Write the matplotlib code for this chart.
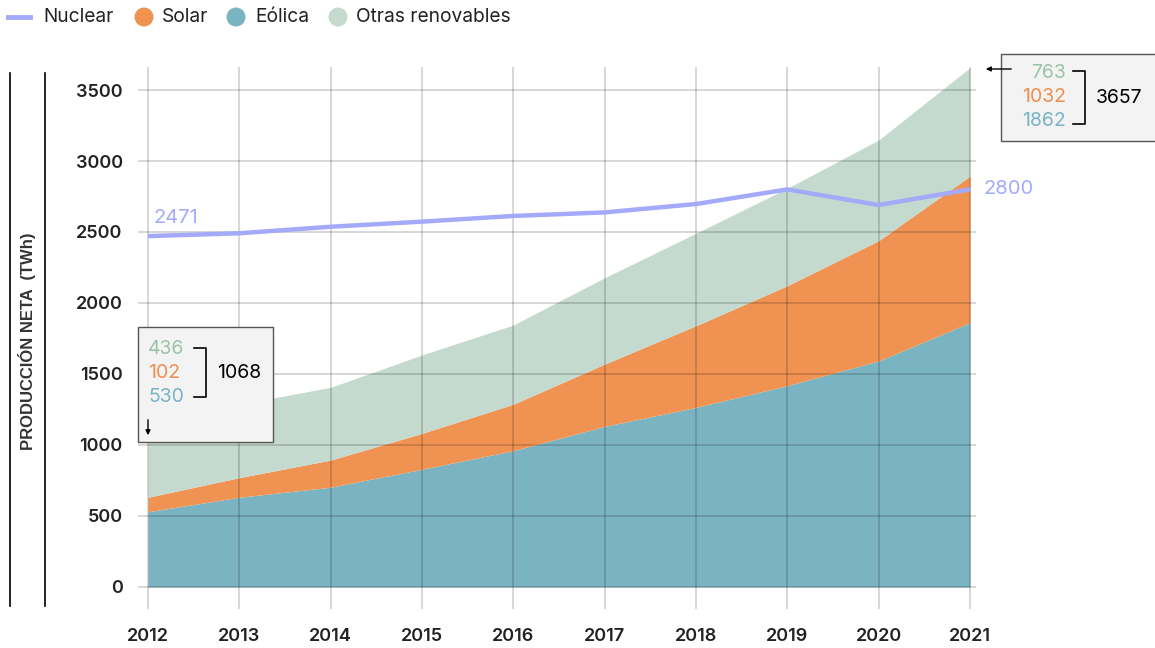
import matplotlib
matplotlib.use("Agg")
import matplotlib.pyplot as plt
from matplotlib.transforms import Affine2D
from matplotlib.patches import Rectangle, Circle, FancyArrowPatch
from matplotlib.lines import Line2D

plt.rcParams['font.family'] = ['Inter', 'DejaVu Sans']

# ---- data ----
years = [2012, 2013, 2014, 2015, 2016, 2017, 2018, 2019, 2020, 2021]
eolica = [530, 632, 703, 829, 960, 1131, 1265, 1418, 1592, 1862]
solar = [102, 138, 191, 253, 327, 439, 575, 704, 847, 1032]
otras = [436, 517, 512, 552, 558, 608, 651, 686, 709, 763]
nuclear = [2471, 2491, 2537, 2573, 2613, 2638, 2697, 2800, 2690, 2800]
yticks = [0, 500, 1000, 1500, 2000, 2500, 3000, 3500]
legend_labels = ["Nuclear", "Solar", "Eólica", "Otras renovables"]
ylabel = "PRODUCCIÓN NETA  (TWh)"

C_EOL = "#7ab4c2"
C_SOL = "#f09352"
C_OTR = "#c5dace"
C_NUC = "#a4aafa"
T_EOL = "#78b4c6"
T_SOL = "#f08f50"
T_OTR = "#9cc3a8"

W, H = 1155, 648
fig = plt.figure(figsize=(W / 100, H / 100), dpi=100)
px = Affine2D().scale(1 / W, -1 / H).translate(0, 1) + fig.transFigure

# axes: pixel box 138..976 x 67..609
ax = fig.add_axes([138 / W, 1 - 609 / H, (976 - 138) / W, (609 - 67) / H])
ax.set_xlim(2011.8905, 2021.0657)
ax.set_ylim(-155, 3662)
for s in ax.spines.values():
    s.set_visible(False)

s1 = eolica
s2 = [a + b for a, b in zip(eolica, solar)]
s3 = [a + b for a, b in zip(s2, otras)]
ax.fill_between(years, 0, s1, color=C_EOL, lw=0, zorder=1)
ax.fill_between(years, s1, s2, color=C_SOL, lw=0, zorder=1)
ax.fill_between(years, s2, s3, color=C_OTR, lw=0, zorder=1)

for y in yticks:
    ax.axhline(y, color="black", alpha=0.2, lw=1.1, zorder=2)
for x in years:
    ax.axvline(x, color="black", alpha=0.2, lw=1.1, zorder=2)

ax.plot(years, nuclear, color=C_NUC, lw=3.2, zorder=3, solid_capstyle="butt")

ax.set_xticks(years)
ax.set_xticklabels([str(y) for y in years])
ax.set_yticks(yticks)
ax.set_yticklabels([str(y) for y in yticks])
ax.tick_params(axis="both", length=0, labelsize=13, colors="#222222")
ax.tick_params(axis="y", pad=11)
ax.tick_params(axis="x", pad=14)
for lab in ax.get_xticklabels() + ax.get_yticklabels():
    lab.set_fontweight(600)

# nuclear value labels
ax.annotate(str(nuclear[0]), xy=(years[0], nuclear[0]), xytext=(5, 18),
            textcoords="offset pixels", color=C_NUC, fontsize=14.5,
            ha="left", va="center")
ax.annotate(str(nuclear[-1]), xy=(years[-1], nuclear[-1]), xytext=(14, 0),
            textcoords="offset pixels", color=C_NUC, fontsize=14.5,
            ha="left", va="center")

# y label + vertical rules
fig.add_artist(Line2D([10, 10], [73, 606], transform=px, color="black", lw=1.2))
fig.add_artist(Line2D([45, 45], [73, 606], transform=px, color="black", lw=1.2))
fig.text(27, 341, ylabel, transform=px, rotation=90, ha="center", va="center",
         fontsize=12, fontweight="bold", family=["Liberation Sans", "DejaVu Sans"],
         color="#333333")

# legend (manual)
LFS = 13.8
fig.add_artist(Line2D([8, 30], [17, 17], transform=px, color=C_NUC, lw=3.5))
fig.text(43, 17, legend_labels[0], transform=px, ha="left", va="center", fontsize=LFS, color="#222222")
fig.add_artist(Circle((144, 17), 9.5, transform=px, color=C_SOL, lw=0))
fig.text(162, 17, legend_labels[1], transform=px, ha="left", va="center", fontsize=LFS, color="#222222")
fig.add_artist(Circle((236, 17), 9.5, transform=px, color=C_EOL, lw=0))
fig.text(255, 17, legend_labels[2], transform=px, ha="left", va="center", fontsize=LFS, color="#222222")
fig.add_artist(Circle((338, 17), 9.5, transform=px, color=C_OTR, lw=0))
fig.text(356, 17, legend_labels[3], transform=px, ha="left", va="center", fontsize=LFS, color="#222222")

BFS = 14


def box(x0, y0, x1, y1):
    fig.add_artist(Rectangle((x0, y0), x1 - x0, y1 - y0, transform=px,
                             facecolor="#f3f3f3", edgecolor="#555555", lw=1.0, zorder=5))


def bracket(xa, xb, ya, yb):
    fig.add_artist(Line2D([xa, xb, xb, xa], [ya, ya, yb, yb], transform=px,
                          color="black", lw=1.2, zorder=6))


# left annotation (2012)
i = 0
box(138, 327, 273, 442)
fig.text(148, 349, str(otras[i]), transform=px, ha="left", va="center", fontsize=BFS, color=T_OTR, zorder=6)
fig.text(148, 373, str(solar[i]), transform=px, ha="left", va="center", fontsize=BFS, color=T_SOL, zorder=6)
fig.text(148, 397, str(eolica[i]), transform=px, ha="left", va="center", fontsize=BFS, color=T_EOL, zorder=6)
bracket(194, 206, 348, 397)
fig.text(217, 373, str(s3[i]), transform=px, ha="left", va="center", fontsize=BFS, color="black", zorder=6)
fig.add_artist(FancyArrowPatch((148, 417), (148, 438), transform=px, arrowstyle="-|>",
                               mutation_scale=7, color="black", lw=1.0, zorder=6))

# right annotation (2021)
i = -1
box(1001, 54, 1165, 141)
fig.text(1066, 73, str(otras[i]), transform=px, ha="right", va="center", fontsize=BFS, color=T_OTR, zorder=6)
fig.text(1066, 97, str(solar[i]), transform=px, ha="right", va="center", fontsize=BFS, color=T_SOL, zorder=6)
fig.text(1066, 121, str(eolica[i]), transform=px, ha="right", va="center", fontsize=BFS, color=T_EOL, zorder=6)
bracket(1073, 1085, 71, 124)
fig.text(1096, 98, str(s3[i]), transform=px, ha="left", va="center", fontsize=BFS, color="black", zorder=6)
fig.add_artist(FancyArrowPatch((1014, 69), (983, 69), transform=px, arrowstyle="-|>",
                               mutation_scale=7, color="black", lw=1.0, zorder=6))

fig.savefig("out.png", dpi=100)
